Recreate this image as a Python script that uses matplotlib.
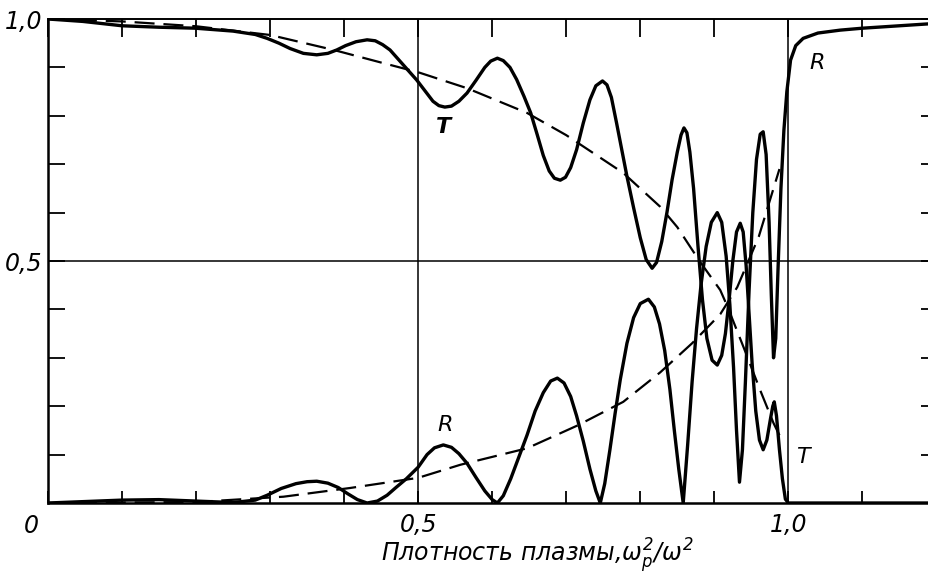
import matplotlib
matplotlib.use('Agg')
import matplotlib.pyplot as plt
import numpy as np

plt.rcParams['font.family'] = ['Liberation Sans Narrow', 'DejaVu Sans']
plt.rcParams['mathtext.fontset'] = 'custom'
plt.rcParams['mathtext.it'] = 'Liberation Sans Narrow:italic'
plt.rcParams['mathtext.rm'] = 'Liberation Sans Narrow:italic'

# solid curves: transmission T and reflection R
tx = [0.000, 0.047, 0.100, 0.150, 0.199, 0.250, 0.280, 0.296, 0.312, 0.327, 0.345, 0.363, 0.378, 0.390,
      0.402, 0.416, 0.431, 0.442, 0.452, 0.462, 0.480, 0.498, 0.510, 0.520, 0.528, 0.536, 0.545, 0.555,
      0.566, 0.578, 0.590, 0.598, 0.607, 0.615, 0.624, 0.633, 0.643, 0.652, 0.661, 0.669, 0.677, 0.684,
      0.692, 0.699, 0.706, 0.714, 0.723, 0.732, 0.740, 0.749, 0.755, 0.761, 0.768, 0.775, 0.782, 0.791,
      0.800, 0.808, 0.816, 0.822, 0.829, 0.836, 0.843, 0.850, 0.855, 0.859, 0.863, 0.867, 0.872, 0.878,
      0.884, 0.890, 0.897, 0.904, 0.910, 0.915, 0.920, 0.925, 0.930, 0.935, 0.939, 0.943, 0.947, 0.951,
      0.956, 0.961, 0.966, 0.971, 0.976, 0.979, 0.981, 0.984, 0.988, 0.992, 0.996, 1.000, 1.190]
ty = [1.000, 0.995, 0.986, 0.983, 0.981, 0.975, 0.968, 0.960, 0.950, 0.939, 0.929, 0.926, 0.929, 0.936,
      0.945, 0.953, 0.957, 0.955, 0.947, 0.936, 0.905, 0.874, 0.850, 0.830, 0.821, 0.818, 0.820, 0.830,
      0.847, 0.873, 0.900, 0.913, 0.919, 0.914, 0.900, 0.875, 0.840, 0.806, 0.760, 0.718, 0.686, 0.671,
      0.667, 0.673, 0.693, 0.730, 0.785, 0.833, 0.862, 0.872, 0.864, 0.838, 0.785, 0.730, 0.675, 0.610,
      0.548, 0.503, 0.485, 0.497, 0.540, 0.600, 0.668, 0.725, 0.760, 0.775, 0.765, 0.725, 0.650, 0.530,
      0.420, 0.340, 0.295, 0.285, 0.305, 0.350, 0.420, 0.500, 0.560, 0.578, 0.560, 0.490, 0.390, 0.290,
      0.190, 0.130, 0.110, 0.130, 0.175, 0.200, 0.209, 0.180, 0.110, 0.050, 0.008, 0.000, 0.000]

rx = [0.000, 0.050, 0.100, 0.150, 0.200, 0.250, 0.280, 0.296, 0.315, 0.335, 0.350, 0.363, 0.378, 0.392,
      0.405, 0.418, 0.431, 0.445, 0.458, 0.470, 0.484, 0.500, 0.512, 0.522, 0.534, 0.545, 0.555, 0.566,
      0.578, 0.590, 0.600, 0.607, 0.615, 0.625, 0.636, 0.647, 0.658, 0.669, 0.679, 0.688, 0.697, 0.706,
      0.714, 0.723, 0.732, 0.740, 0.746, 0.752, 0.759, 0.766, 0.773, 0.782, 0.791, 0.800, 0.811, 0.819,
      0.826, 0.833, 0.840, 0.846, 0.852, 0.858, 0.864, 0.870, 0.876, 0.882, 0.889, 0.896, 0.904, 0.910,
      0.916, 0.921, 0.926, 0.930, 0.934, 0.938, 0.942, 0.947, 0.952, 0.957, 0.962, 0.966, 0.970, 0.974,
      0.977, 0.980, 0.983, 0.986, 0.990, 0.994, 0.998, 1.003, 1.010, 1.020, 1.040, 1.070, 1.100, 1.150,
      1.190]
ry = [0.000, 0.003, 0.006, 0.007, 0.004, 0.001, 0.006, 0.016, 0.030, 0.040, 0.044, 0.045, 0.041, 0.032,
      0.019, 0.007, 0.000, 0.004, 0.016, 0.032, 0.050, 0.074, 0.100, 0.114, 0.120, 0.115, 0.102, 0.082,
      0.053, 0.025, 0.007, 0.000, 0.015, 0.050, 0.095, 0.140, 0.190, 0.228, 0.252, 0.258, 0.248, 0.220,
      0.180, 0.128, 0.070, 0.025, 0.000, 0.040, 0.110, 0.185, 0.255, 0.330, 0.383, 0.412, 0.421, 0.405,
      0.370, 0.315, 0.235, 0.150, 0.070, 0.000, 0.120, 0.250, 0.360, 0.450, 0.530, 0.580, 0.600, 0.580,
      0.510, 0.410, 0.280, 0.150, 0.043, 0.110, 0.250, 0.440, 0.600, 0.710, 0.762, 0.767, 0.720, 0.580,
      0.430, 0.300, 0.340, 0.480, 0.650, 0.770, 0.850, 0.915, 0.945, 0.960, 0.971, 0.977, 0.981, 0.986,
      0.990]

# dashed curves
tdx = [0.0, 0.1, 0.2, 0.3, 0.386, 0.45, 0.5, 0.566, 0.647, 0.7, 0.777, 0.827, 0.85, 0.88, 0.908, 0.918,
       0.94, 0.962, 0.98, 0.988]
tdy = [1.0, 0.995, 0.985, 0.967, 0.936, 0.91, 0.89, 0.857, 0.806, 0.76, 0.682, 0.612, 0.57, 0.50, 0.44,
       0.405, 0.32, 0.233, 0.165, 0.14]
rdx = [0.0, 0.2, 0.318, 0.408, 0.5, 0.557, 0.647, 0.715, 0.777, 0.827, 0.87, 0.908, 0.931, 0.96, 0.988]
rdy = [0.0, 0.002, 0.013, 0.031, 0.052, 0.079, 0.113, 0.16, 0.209, 0.27, 0.33, 0.39, 0.446, 0.55, 0.69]

fig = plt.figure(figsize=(9.29, 5.73), dpi=100)
ax = fig.add_axes([48/929, 70/573, 881/929, 484/573])

ax.plot(tx, ty, color='black', lw=2.4, solid_joinstyle='round')
ax.plot(rx, ry, color='black', lw=2.4, solid_joinstyle='round')
ax.plot(tdx, tdy, color='black', lw=1.6, dashes=(9, 4))
ax.plot(rdx, rdy, color='black', lw=1.6, dashes=(9, 4))

ax.axvline(0.5, color='black', lw=1.1)
ax.axvline(1.0, color='black', lw=1.1)
ax.axhline(0.5, color='black', lw=1.1)

ax.set_xlim(0, 1.19)
ax.set_ylim(0, 1.0)

ax.spines['right'].set_visible(False)
ax.spines['left'].set_linewidth(1.8)
ax.spines['bottom'].set_linewidth(1.8)
ax.spines['top'].set_linewidth(1.4)

xt = np.arange(0, 12) / 10
ax.set_xticks(xt)
ax.set_xticklabels(['' if i not in (5, 10) else ('0,5' if i == 5 else '1,0') for i in range(12)])
yt = np.arange(0, 11) / 10
ax.set_yticks(yt)
ax.set_yticklabels(['' if i not in (5, 10) else ('0,5' if i == 5 else '1,0') for i in range(11)])
ax.tick_params(axis='both', direction='in', width=1.3, top=True, right=True, labelsize=17, color='black')
ax.tick_params(axis='x', which='major', length=9, pad=7)
ax.tick_params(axis='y', length=12, pad=4)
for t in ax.xaxis.get_major_ticks():
    t.tick2line.set_markersize(13)
for t in ax.yaxis.get_major_ticks():
    t.tick2line.set_markersize(6)
for lab in ax.get_xticklabels() + ax.get_yticklabels():
    lab.set_fontstyle('italic')

ax.text(-0.012, -0.022, '0', ha='right', va='top', fontsize=17, style='italic', clip_on=False)

ax.text(0.534, 0.777, 'T', ha='center', va='center', fontsize=16, style='italic', weight='bold')
ax.text(0.536, 0.161, 'R', ha='center', va='center', fontsize=16, style='italic')
ax.text(1.039, 0.909, 'R', ha='center', va='center', fontsize=16, style='italic')
ax.text(1.019, 0.095, 'T', ha='center', va='center', fontsize=16, style='italic')

ax.set_xlabel(r'Плотность плазмы,$\omega_p^2/\omega^2$', fontsize=17, style='italic')
ax.xaxis.set_label_coords(0.556, -0.068)

fig.savefig('out.png', dpi=100)
